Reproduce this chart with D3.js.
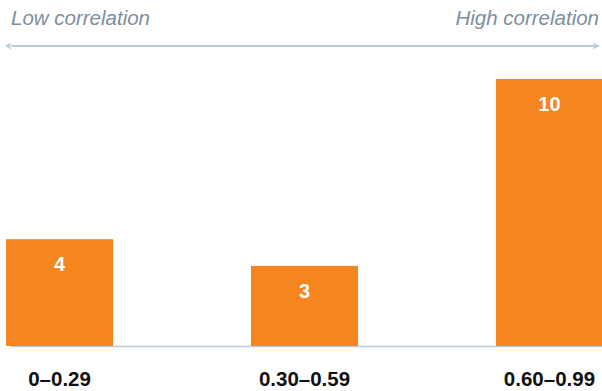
<!DOCTYPE html>
<html>
<head>
<meta charset="utf-8">
<script src="https://cdn.jsdelivr.net/npm/d3@7"></script>
<style>
  body { margin: 0; background: #fff; }
  svg text { font-family: "Liberation Sans", Arial, Helvetica, sans-serif; }
</style>
</head>
<body>
<svg id="chart" width="602" height="391"></svg>
<script>
const categories = ["0\u20130.29", "0.30\u20130.59", "0.60\u20130.99"];
const counts = [4, 3, 10];
const endLabels = ["Low correlation", "High correlation"];

const orange = "#f5861f";
const greyBlue = "#bccbd6";

const svg = d3.select("#chart");

const x = d3.scaleBand().domain(categories).range([6, 603]).paddingInner(0.563).paddingOuter(0);
const y = d3.scaleLinear().domain([0, 10]).range([346, 79]);

// arrow marker
const defs = svg.append("defs");
["start", "end"].forEach(function(k){
    defs.append("marker").attr("id", "arrow-" + k)
        .attr("viewBox", "0 0 10 10").attr("refX", k == "end" ? 9 : 1).attr("refY", 5)
        .attr("markerWidth", 8).attr("markerHeight", 7).attr("markerUnits", "userSpaceOnUse")
        .attr("orient", "auto-start-reverse")
        .append("path").attr("d", "M0,0 L10,5 L0,10 L3,5 Z").attr("fill", greyBlue);
});

svg.append("line").attr("x1", 11).attr("x2", 599).attr("y1", 46).attr("y2", 46)
    .attr("stroke", greyBlue).attr("stroke-width", 2)
    .attr("marker-start", "url(#arrow-start)").attr("marker-end", "url(#arrow-end)");

svg.append("text").attr("x", 11).attr("y", 25).text(endLabels[0])
    .attr("font-size", 20.5).attr("font-style", "italic").attr("fill", "#7d8f9c");
svg.append("text").attr("x", 599).attr("y", 25).attr("text-anchor", "end").text(endLabels[1])
    .attr("font-size", 20.5).attr("font-style", "italic").attr("fill", "#7d8f9c");

// baseline
svg.append("line").attr("x1", 11).attr("x2", 602).attr("y1", y(0) + 0.5).attr("y2", y(0) + 0.5)
    .attr("stroke", greyBlue).attr("stroke-width", 1.5);

const bars = svg.selectAll(".bar").data(categories).enter().append("g").attr("class", "bar");

bars.append("rect")
    .attr("x", function(d){ return x(d); })
    .attr("y", function(d, i){ return y(counts[i]); })
    .attr("width", x.bandwidth())
    .attr("height", function(d, i){ return y(0) - y(counts[i]); })
    .attr("fill", orange);

bars.append("text")
    .attr("x", function(d){ return x(d) + x.bandwidth() / 2; })
    .attr("y", function(d, i){ return y(counts[i]) + 32; })
    .attr("text-anchor", "middle").attr("font-size", 20).attr("font-weight", "bold").attr("fill", "#fff")
    .text(function(d, i){ return counts[i]; });

bars.append("text")
    .attr("x", function(d){ return x(d) + x.bandwidth() / 2; })
    .attr("y", 386)
    .attr("text-anchor", "middle").attr("font-size", 20.5).attr("font-weight", "bold").attr("fill", "#111")
    .text(function(d){ return d; });
</script>
</body>
</html>
